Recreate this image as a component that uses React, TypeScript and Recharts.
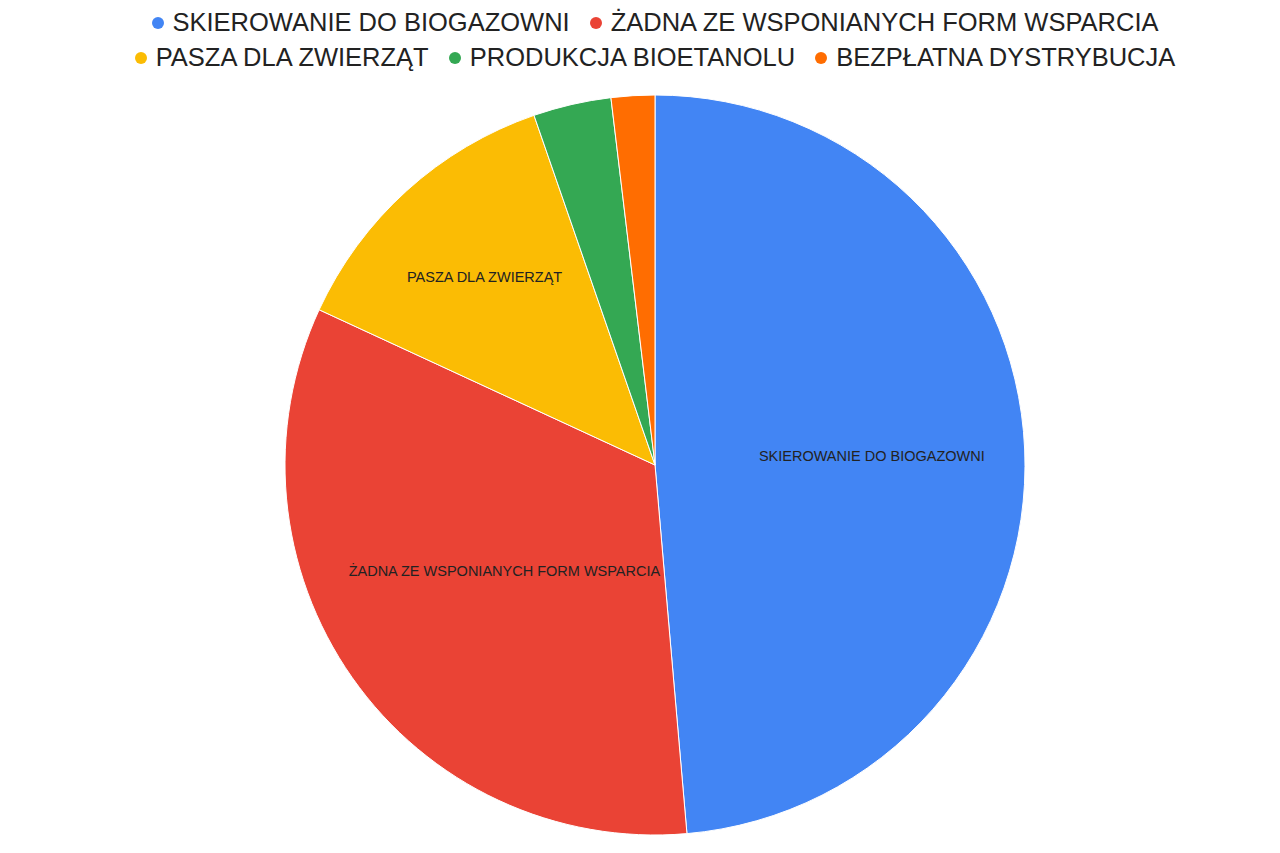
import React from "react";
import { PieChart, Pie, Cell } from "recharts";

const categories = [
  "SKIEROWANIE DO BIOGAZOWNI",
  "ŻADNA ZE WSPONIANYCH FORM WSPARCIA",
  "PASZA DLA ZWIERZĄT",
  "PRODUKCJA BIOETANOLU",
  "BEZPŁATNA DYSTRYBUCJA",
];
const values = [48.6, 33.25, 12.8, 3.4, 1.9];
const colors = ["#4285F4", "#EA4335", "#FBBC04", "#34A853", "#FF6D01"];
const legendRows = [[0, 1], [2, 3, 4]];

const data = categories.map((name, i) => ({ name, value: values[i] }));

const LABEL_RADIUS = [217, 184, 254];
const RAD = Math.PI / 180;
const FONT = "Arial, 'Liberation Sans', sans-serif";

const renderLabel = (props: any) => {
  const { cx, cy, midAngle, index, name } = props;
  if (index >= LABEL_RADIUS.length) return null;
  const r = LABEL_RADIUS[index];
  const x = cx + r * Math.cos(-midAngle * RAD);
  const y = cy + r * Math.sin(-midAngle * RAD);
  return (
    <text
      x={x}
      y={y}
      textAnchor="middle"
      dominantBaseline="central"
      fill="#222"
      fontSize={14.5}
      fontFamily={FONT}
    >
      {name}
    </text>
  );
};

function LegendBlock() {
  return (
    <div
      style={{
        position: "absolute",
        left: 15,
        top: 5,
        width: 1280,
        fontFamily: FONT,
        fontSize: 25.5,
        color: "#222",
      }}
    >
      {legendRows.map((row, ri) => (
        <div
          key={ri}
          style={{
            display: "flex",
            justifyContent: "center",
            alignItems: "center",
            height: 35,
            whiteSpace: "nowrap",
          }}
        >
          {row.map((i) => (
            <div
              key={i}
              style={{ display: "flex", alignItems: "center", margin: "0 10px" }}
            >
              <span
                style={{
                  display: "inline-block",
                  width: 12,
                  height: 12,
                  borderRadius: 6,
                  background: colors[i],
                  marginRight: 9,
                }}
              />
              <span>{categories[i]}</span>
            </div>
          ))}
        </div>
      ))}
    </div>
  );
}

export default function App() {
  return (
    <div
      style={{
        position: "absolute",
        left: 0,
        top: 0,
        width: 1280,
        height: 853,
        background: "#fff",
        overflow: "hidden",
      }}
    >
      <PieChart
        width={1280}
        height={853}
        margin={{ top: 0, right: 0, bottom: 0, left: 0 }}
      >
        <Pie
          data={data}
          dataKey="value"
          nameKey="name"
          cx={655}
          cy={465}
          outerRadius={370}
          startAngle={90}
          endAngle={-270}
          stroke="#fff"
          strokeWidth={1}
          label={renderLabel}
          labelLine={false}
          isAnimationActive={false}
        >
          {data.map((d, i) => (
            <Cell key={d.name} fill={colors[i]} />
          ))}
        </Pie>
      </PieChart>
      <LegendBlock />
    </div>
  );
}
